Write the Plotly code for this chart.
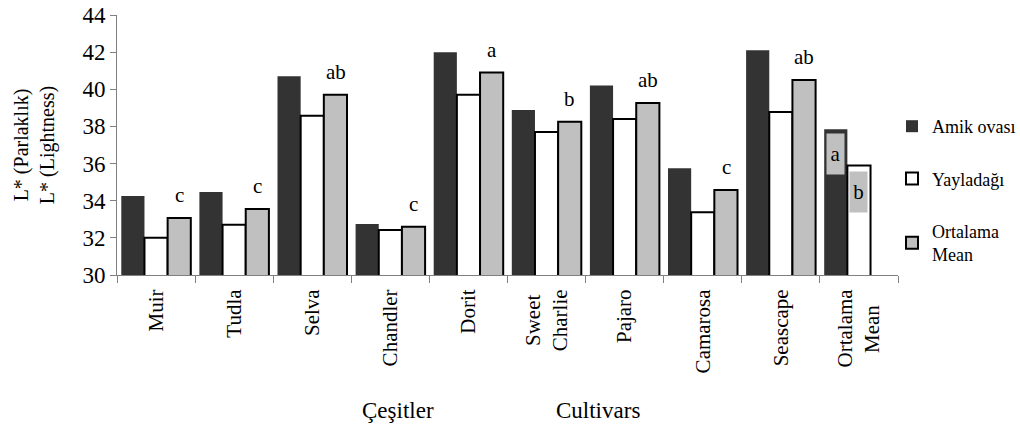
import plotly.graph_objects as go

categories = ["Muir", "Tudla", "Selva", "Chandler", "Dorit", "Sweet Charlie",
              "Pajaro", "Camarosa", "Seascape", "Ortalama Mean"]
NB = "\u00a0"
tick_labels = ["Muir", "Tudla", "Selva", "Chandler", "Dorit",
               "Sweet" + NB + "<br>Charlie", "Pajaro", "Camarosa", "Seascape",
               "Ortalama<br>Mean" + NB * 3]
amik = [34.25, 34.47, 40.7, 32.75, 42.0, 38.88, 40.2, 35.75, 42.1, 37.85]
yayladagi = [32.0, 32.7, 38.58, 32.42, 39.7, 37.7, 38.4, 33.38, 38.78, 35.89]
ortalama = [33.07, 33.55, 39.7, 32.6, 40.9, 38.25, 39.26, 34.58, 40.5, None]
letters = ["c", "c", "ab", "c", "a", "b", "ab", "c", "ab"]
mean_letters = ["a", "b"]
mean_letter_y = [36.5, 34.47]

FONT = "Liberation Serif"

W, H = 1020, 428
L, R, T, B = 117, 122, 15, 153
pw, ph = W - L - R, H - T - B


def px_to_paper(xp, yp):
    return (xp - L) / pw, (H - B - yp) / ph


fig = go.Figure()
fig.add_trace(go.Bar(x=categories, y=amik, name="Amik ovası",
                     marker=dict(color="#333333", line=dict(color="#333333", width=0)),
                     legendgroup="a"))
fig.add_trace(go.Bar(x=categories, y=yayladagi, name="Yayladağı",
                     marker=dict(color="#ffffff", line=dict(color="#000000", width=2)),
                     legendgroup="b"))
fig.add_trace(go.Bar(x=categories, y=ortalama, name="Ortalama<br>Mean",
                     marker=dict(color="#c0c0c0", line=dict(color="#000000", width=2)),
                     legendgroup="c"))

annotations = []
for i, (lab, v) in enumerate(zip(letters, ortalama)):
    annotations.append(dict(x=i + 0.3, y=v, xref="x", yref="y", text=lab,
                            showarrow=False, xanchor="center", yanchor="bottom", yshift=9,
                            font=dict(family=FONT, size=21, color="#000")))
for k, (lab, yv) in enumerate(zip(mean_letters, mean_letter_y)):
    annotations.append(dict(x=9 - 0.3 + 0.3 * k, y=yv, xref="x", yref="y", text=lab,
                            showarrow=False, bgcolor="#c0c0c0", width=15, height=38,
                            borderpad=1, xanchor="center", yanchor="middle",
                            font=dict(family=FONT, size=21, color="#000")))
ax_, ay_ = px_to_paper(398, 410)
bx_, by_ = px_to_paper(598, 410)
annotations.append(dict(x=ax_, y=ay_, xref="paper", yref="paper", text="Çeşitler",
                        xanchor="center", yanchor="middle",
                        showarrow=False, font=dict(family=FONT, size=23, color="#000")))
annotations.append(dict(x=bx_, y=by_, xref="paper", yref="paper", text="Cultivars",
                        xanchor="center", yanchor="middle",
                        showarrow=False, font=dict(family=FONT, size=23, color="#000")))

lx, ly = px_to_paper(892, 108)

fig.update_layout(
    width=W, height=H,
    margin=dict(l=L, r=R, t=T, b=B, autoexpand=False),
    paper_bgcolor="white", plot_bgcolor="white",
    font=dict(family=FONT, size=19, color="#000"),
    barmode="group", bargap=0.11, bargroupgap=0,
    showlegend=True,
    annotations=annotations,
    legend=dict(x=lx, y=ly, xanchor="left", yanchor="top",
                bgcolor="rgba(0,0,0,0)", tracegroupgap=26,
                font=dict(family=FONT, size=18, color="#000"), itemwidth=30),
    xaxis=dict(showline=True, linecolor="#808080", linewidth=1,
               ticks="outside", tickson="boundaries", ticklen=7, tickcolor="#808080",
               tickmode="array", tickvals=categories, ticktext=tick_labels,
               tickangle=-90, tickfont=dict(family=FONT, size=21, color="#000"),
               ticklabelstandoff=5, showgrid=False, automargin=False),
    yaxis=dict(range=[30, 44], dtick=2, showline=True, linecolor="#808080", linewidth=1,
               ticks="outside", ticklen=6, tickcolor="#808080", showgrid=False,
               zeroline=False, automargin=False,
               tickfont=dict(family=FONT, size=23, color="#000"),
               title=dict(text="L* (Parlaklık)<br>L* (Lightness)", standoff=22,
                          font=dict(family=FONT, size=20, color="#000"))),
)

fig.write_html("out.html")
